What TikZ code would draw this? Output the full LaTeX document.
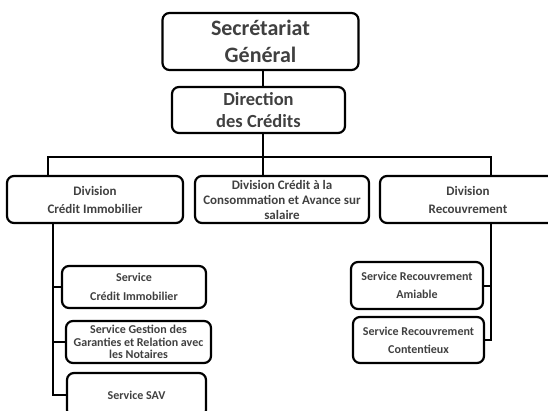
\documentclass[tikz,border=0pt]{standalone}
\usepackage{fontspec}
\setmainfont{Carlito}
\usetikzlibrary{positioning}
\definecolor{ORGtext}{RGB}{64,64,64}
\tikzstyle{ORGbox}=[draw=black, line width=2.2pt, rounded corners=7pt, align=center, text=ORGtext, inner sep=0pt, font=\bfseries]
\tikzstyle{ORGlink}=[draw=black, line width=2pt]

\begin{document}
\begin{tikzpicture}[x=1pt, y=-1pt]
                \path [use as bounding box] (0,0) rectangle (548,411);
                \clip (0,0) rectangle (548,411);
                \node [ORGbox, minimum width=196pt, minimum height=57pt, font=\bfseries\fontsize{22}{27}\selectfont] (sg) at (260.5,41.5) {Secrétariat\\Général};
                \node [ORGbox, minimum width=173pt, minimum height=46pt, font=\bfseries\fontsize{18.5}{22}\selectfont] (dc) at (258.5,110) {Direction\\des Crédits};
                \node [ORGbox, minimum width=176pt, minimum height=47pt, font=\bfseries\fontsize{13}{18}\selectfont] (dci) at (95,199.5) {Division\\Crédit Immobilier};
                \node [ORGbox, minimum width=174pt, minimum height=47pt, font=\bfseries\fontsize{13}{15}\selectfont] (dcc) at (282,199.5) {Division Crédit à la\\Consommation et Avance sur\\salaire};
                \node [ORGbox, minimum width=176pt, minimum height=47pt, font=\bfseries\fontsize{13}{18}\selectfont] (drc) at (468,199.5) {Division\\Recouvrement};
                \node [ORGbox, minimum width=144pt, minimum height=42pt, font=\bfseries\fontsize{12}{19}\selectfont] (sci) at (134,287) {Service\\Crédit Immobilier};
                \node [ORGbox, minimum width=145pt, minimum height=42pt, font=\bfseries\fontsize{12}{12.5}\selectfont] (sgg) at (138.5,342) {Service Gestion des\\Garanties et Relation avec\\les Notaires};
                \node [ORGbox, minimum width=139pt, minimum height=44pt, font=\bfseries\fontsize{12}{12.5}\selectfont] (sav) at (136.5,395) {Service SAV};
                \node [ORGbox, minimum width=132pt, minimum height=47pt, font=\bfseries\fontsize{12}{18}\selectfont] (sra) at (417,285.5) {Service Recouvrement\\Amiable};
                \node [ORGbox, minimum width=131pt, minimum height=46pt, font=\bfseries\fontsize{12}{18}\selectfont] (src) at (418.5,340) {Service Recouvrement\\Contentieux};
                \coordinate (trunk) at (263,157);
                \coordinate (lbus) at (48,157);
                \coordinate (rbus) at (491,157);
                \coordinate (lspine) at (53,300);
                \coordinate (rspine) at (491,300);
                \path [ORGlink] (sg.south -| trunk) -- (dc.north -| trunk);
                \path [ORGlink] (dc.south -| trunk) -- (trunk) -- (dcc.north -| trunk);
                \path [ORGlink] (dci.north -| lbus) -- (lbus) -- (rbus) -- (drc.north -| rbus);
                \path [ORGlink] (dci.south -| lspine) |- (sav.west);
                \path [ORGlink] (lspine |- sci.west) -- (sci.west);
                \path [ORGlink] (lspine |- sgg.west) -- (sgg.west);
                \path [ORGlink] (drc.south -| rspine) |- (src.east);
                \path [ORGlink] (rspine |- sra.east) -- (sra.east);
            \end{tikzpicture}
\end{document}
